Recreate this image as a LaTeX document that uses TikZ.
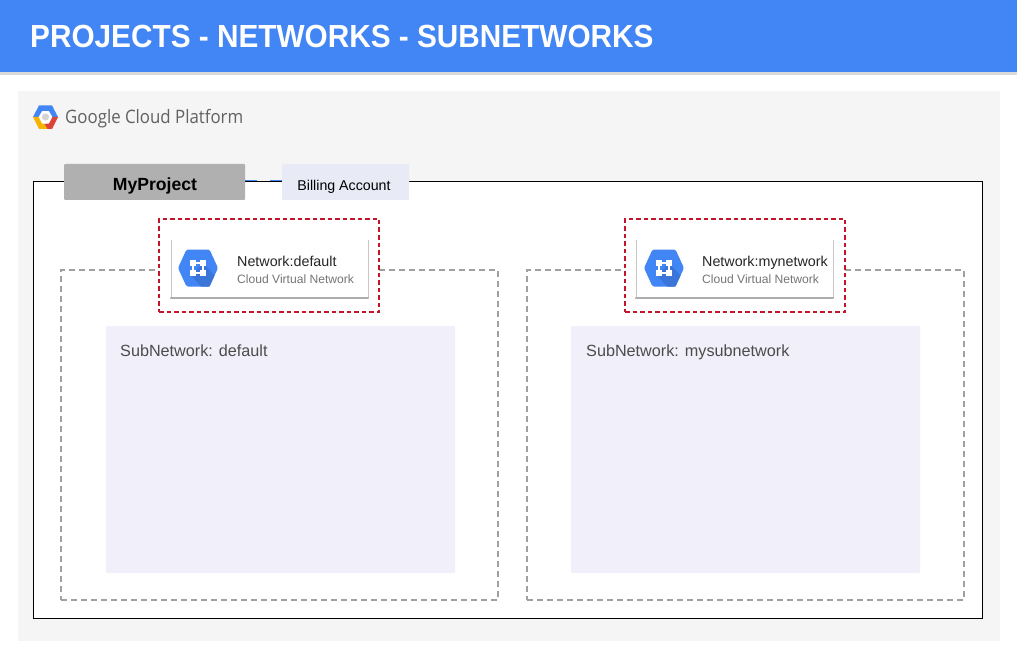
\documentclass[tikz,border=0pt]{standalone}
\usepackage{fontspec}
\setmainfont{Liberation Sans}
\newfontfamily\logofont[FakeStretch=0.91]{Open Sans}
\newfontfamily\titlefont[FakeStretch=0.93]{Liberation Sans}
\definecolor{gcpblue}{HTML}{4285F4}
\definecolor{gcpred}{HTML}{DB4437}
\definecolor{gcpyellow}{HTML}{F4B400}
\definecolor{panelgray}{HTML}{F5F5F5}
\definecolor{subnetfill}{HTML}{F1EFF9}
\definecolor{billfill}{HTML}{E8EAF6}
\definecolor{projfill}{HTML}{B0B0B0}
\definecolor{redline}{HTML}{C2152B}
\definecolor{dashgray}{HTML}{A0A0A0}
\definecolor{textgray}{HTML}{757575}
\tikzset{
  box/.style={rectangle, inner sep=0pt, outer sep=0pt, anchor=north west},
  subnetbox/.style={box, fill=subnetfill, rounded corners=1pt, minimum width=349pt, minimum height=247pt},
  groupbox/.style={box, draw=dashgray, line width=1.1pt, dash pattern=on 6pt off 4pt, minimum width=437pt, minimum height=330pt},
  redbox/.style={box, draw=redline, fill=white, line width=1.1pt, dash pattern=on 4.5pt off 3pt, minimum width=220pt, minimum height=93pt},
  cardbox/.style={box, fill=white, minimum width=197pt, minimum height=58pt},
  nettitle/.style={anchor=base west, inner sep=0pt, font=\fontsize{14.3}{16}\selectfont, text=black!85},
  netsub/.style={anchor=base west, inner sep=0pt, font=\fontsize{12.1}{14}\selectfont, text=textgray},
  subnettext/.style={anchor=base west, inner sep=0pt, font=\fontsize{16.2}{18}\selectfont, text=black!70},
  boxtext/.style={anchor=base, inner sep=0pt},
  pics/neticon/.style={code={
    \fill[gcpblue, rounded corners=1.5pt] (-20,0) -- (-11.5,-18.5) -- (11.5,-18.5) -- (20,0) -- (11.5,18.5) -- (-11.5,18.5) -- cycle;
    \fill[black!12!gcpblue] (5,-5) -- (16.5,7.5) -- (11.5,18.5) -- (3,18.5) -- (-7,7) -- cycle;
    \draw[white, line width=2.4pt] (-5,-5) rectangle (5,5);
    \foreach \sx in {-5,5} \foreach \sy in {-5,5}
      \fill[white] (\sx-3,\sy-3) rectangle (\sx+3,\sy+3);
  }}
}
\begin{document}
\begin{tikzpicture}[x=1pt, y=-1pt]
\useasboundingbox (0,0) rectangle (1017,671);
% header
\fill[black!15] (0,72) rectangle (1017,75);
\node (header) [box, fill=gcpblue, minimum width=1017pt, minimum height=72pt] at (0,0) {};
\node (title) [boxtext, anchor=base west, text=white, font=\titlefont\fontsize{32}{36}\bfseries\selectfont] at (30,47.5) {PROJECTS - NETWORKS - SUBNETWORKS};
\node (panel) [box, fill=panelgray, minimum width=982pt, minimum height=550pt] at (18,91) {};
% logo
\fill[white] (37,117) -- (41,110) -- (50,110) -- (54,117) -- (50,124) -- (41,124) -- cycle;
\fill[black!17] (45.5,117) circle (3.6);
\fill[gcpblue] (33,117) -- (39,105.5) -- (52,105.5) -- (58,117) -- (52.5,117) -- (49,111) -- (42,111) -- (38.5,117) -- cycle;
\fill[gcpyellow] (33,117) -- (39,129) -- (47.5,129) -- (44.5,124) -- (42,123.5) -- (38.5,117) -- cycle;
\fill[gcpred] (58,117) -- (52,129) -- (47.5,129) -- (44.5,124) -- (49,123.5) -- (52.5,117) -- cycle;
\node (logo) [boxtext, anchor=base west, text=black!62, font=\logofont\fontsize{18.5}{20}\selectfont] at (65,123.5) {Google Cloud Platform};
% project
\node (project) [box, draw=black, fill=white, line width=0.7pt, minimum width=949pt, minimum height=437pt] at (33,181) {};
\node (myproject) [box, fill=projfill, rounded corners=1pt, minimum width=181pt, minimum height=36pt] at (64,164) {};
\node (myprojecttext) [boxtext, font=\fontsize{17.6}{20}\bfseries\selectfont] at (155,191) {MyProject};
\node (billing) [box, fill=billfill, rounded corners=1pt, minimum width=127pt, minimum height=36pt] at (282,164) {};
\node (billingtext) [boxtext, font=\fontsize{14.2}{16}\selectfont] at (344,191) {Billing Account};
\draw[gcpblue, line width=1pt] (myproject.east |- project.north) -- ++(12,0);
\draw[gcpblue, line width=1pt] (billing.west |- project.north) -- ++(-12,0);
% left network
\node (groupleft) [groupbox] at (61,270) {};
\node (subnetleft) [subnetbox] at (106,326) {};
\node (subnetlefttext) [subnettext] at (120,356) {SubNetwork: default};
\node (redleft) [redbox] at (159,219) {};
\node (cardleft) [cardbox] at (171,240) {};
\draw[black!22, line width=0.8pt] (cardleft.north west) -- (cardleft.south west);
\draw[black!22, line width=0.8pt] (cardleft.north east) -- (cardleft.south east);
\draw[black!32, line width=2.4pt, line cap=round] (cardleft.south west) -- (cardleft.south east);
\pic (iconleft) at (198,268) {neticon};
\node (netleft) [nettitle] at (237,266) {Network:default};
\node (netleftsub) [netsub] at (237,283) {Cloud Virtual Network};
% right network
\node (groupright) [groupbox] at (527,270) {};
\node (subnetright) [subnetbox] at (571,326) {};
\node (subnetrighttext) [subnettext] at (586,356) {SubNetwork: mysubnetwork};
\node (redright) [redbox] at (625,219) {};
\node (cardright) [cardbox] at (636,240) {};
\draw[black!22, line width=0.8pt] (cardright.north west) -- (cardright.south west);
\draw[black!22, line width=0.8pt] (cardright.north east) -- (cardright.south east);
\draw[black!32, line width=2.4pt, line cap=round] (cardright.south west) -- (cardright.south east);
\pic (iconright) at (664,268) {neticon};
\node (netright) [nettitle] at (702,266) {Network:mynetwork};
\node (netrightsub) [netsub] at (702,283) {Cloud Virtual Network};
\end{tikzpicture}
\end{document}
